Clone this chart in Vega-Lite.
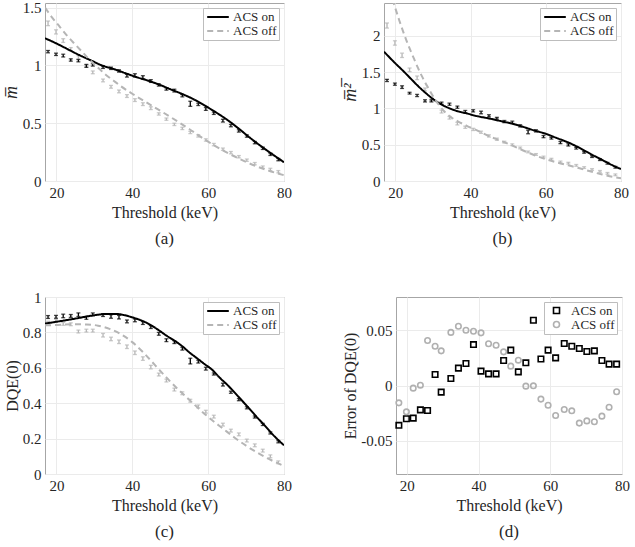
{
  "$schema": "https://vega.github.io/schema/vega-lite/v6.json",
  "padding": {"left": 1, "top": 0, "right": 2, "bottom": 2},
  "background": "white",
  "config": {
    "font": "Liberation Serif",
    "view": {"stroke": "#a6a6a6", "strokeWidth": 1},
    "style": {"guide-label": {"font": "Liberation Serif", "fontSize": 15, "fill": "#262626"}, "guide-title": {"font": "Liberation Serif", "fontSize": 16, "fontWeight": "normal", "fill": "#262626"}},
    "axis": {"grid": true, "gridColor": "#ebebeb", "ticks": false, "domain": false, "labelFont": "Liberation Serif", "labelFontSize": 15, "labelColor": "#262626", "titleFont": "Liberation Serif", "titleFontSize": 16, "titleFontWeight": "normal", "titleColor": "#262626", "labelPadding": 4, "titlePadding": 4, "labelFlush": false, "labelOverlap": false},
    "axisX": {"labelFont": "Liberation Serif", "titleFont": "Liberation Serif"},
    "axisY": {"labelFont": "Liberation Serif", "titleFont": "Liberation Serif", "titlePadding": 2},
    "legend": {"orient": "top-right", "offset": 5, "padding": 2, "rowPadding": 0, "strokeColor": "#bdbdbd", "fillColor": "white", "labelFont": "Liberation Serif", "labelFontSize": 13, "labelColor": "#262626", "symbolStrokeWidth": 2, "labelOffset": 4, "cornerRadius": 0},
    "title": {"font": "Liberation Serif", "fontSize": 17, "fontWeight": "normal", "orient": "bottom", "color": "#262626", "offset": 11}
  },
  "datasets": {
    "theory": [
      {"p":"a","s":"ACS on","x":17,"y":1.235},{"p":"a","s":"ACS on","x":20,"y":1.19},{"p":"a","s":"ACS on","x":23,"y":1.14},{"p":"a","s":"ACS on","x":26,"y":1.09},{"p":"a","s":"ACS on","x":29,"y":1.045},{"p":"a","s":"ACS on","x":32,"y":1.0},{"p":"a","s":"ACS on","x":35,"y":0.97},{"p":"a","s":"ACS on","x":38,"y":0.935},{"p":"a","s":"ACS on","x":41,"y":0.9},{"p":"a","s":"ACS on","x":44,"y":0.87},{"p":"a","s":"ACS on","x":47,"y":0.835},{"p":"a","s":"ACS on","x":50,"y":0.795},{"p":"a","s":"ACS on","x":53,"y":0.755},{"p":"a","s":"ACS on","x":56,"y":0.71},{"p":"a","s":"ACS on","x":59,"y":0.655},{"p":"a","s":"ACS on","x":62,"y":0.595},{"p":"a","s":"ACS on","x":65,"y":0.53},{"p":"a","s":"ACS on","x":68,"y":0.455},{"p":"a","s":"ACS on","x":71,"y":0.375},{"p":"a","s":"ACS on","x":74,"y":0.3},{"p":"a","s":"ACS on","x":77,"y":0.23},{"p":"a","s":"ACS on","x":80,"y":0.162},
      {"p":"a","s":"ACS off","x":17,"y":1.5},{"p":"a","s":"ACS off","x":19,"y":1.41},{"p":"a","s":"ACS off","x":21,"y":1.33},{"p":"a","s":"ACS off","x":23,"y":1.25},{"p":"a","s":"ACS off","x":25,"y":1.18},{"p":"a","s":"ACS off","x":27,"y":1.11},{"p":"a","s":"ACS off","x":29,"y":1.04},{"p":"a","s":"ACS off","x":31,"y":0.98},{"p":"a","s":"ACS off","x":33,"y":0.92},{"p":"a","s":"ACS off","x":35,"y":0.87},{"p":"a","s":"ACS off","x":37,"y":0.82},{"p":"a","s":"ACS off","x":40,"y":0.755},{"p":"a","s":"ACS off","x":45,"y":0.655},{"p":"a","s":"ACS off","x":50,"y":0.555},{"p":"a","s":"ACS off","x":55,"y":0.45},{"p":"a","s":"ACS off","x":60,"y":0.34},{"p":"a","s":"ACS off","x":65,"y":0.245},{"p":"a","s":"ACS off","x":70,"y":0.165},{"p":"a","s":"ACS off","x":75,"y":0.1},{"p":"a","s":"ACS off","x":80,"y":0.05},
      {"p":"b","s":"ACS on","x":17,"y":1.78},{"p":"b","s":"ACS on","x":20,"y":1.62},{"p":"b","s":"ACS on","x":22,"y":1.52},{"p":"b","s":"ACS on","x":24,"y":1.415},{"p":"b","s":"ACS on","x":26,"y":1.31},{"p":"b","s":"ACS on","x":28,"y":1.215},{"p":"b","s":"ACS on","x":30,"y":1.13},{"p":"b","s":"ACS on","x":32,"y":1.06},{"p":"b","s":"ACS on","x":34,"y":1.01},{"p":"b","s":"ACS on","x":36,"y":0.97},{"p":"b","s":"ACS on","x":39,"y":0.93},{"p":"b","s":"ACS on","x":42,"y":0.89},{"p":"b","s":"ACS on","x":45,"y":0.86},{"p":"b","s":"ACS on","x":48,"y":0.825},{"p":"b","s":"ACS on","x":51,"y":0.79},{"p":"b","s":"ACS on","x":54,"y":0.745},{"p":"b","s":"ACS on","x":57,"y":0.695},{"p":"b","s":"ACS on","x":60,"y":0.65},{"p":"b","s":"ACS on","x":63,"y":0.59},{"p":"b","s":"ACS on","x":66,"y":0.53},{"p":"b","s":"ACS on","x":69,"y":0.455},{"p":"b","s":"ACS on","x":72,"y":0.37},{"p":"b","s":"ACS on","x":75,"y":0.29},{"p":"b","s":"ACS on","x":78,"y":0.21},{"p":"b","s":"ACS on","x":80,"y":0.165},
      {"p":"b","s":"ACS off","x":17,"y":2.9},{"p":"b","s":"ACS off","x":18,"y":2.72},{"p":"b","s":"ACS off","x":19,"y":2.55},{"p":"b","s":"ACS off","x":20,"y":2.38},{"p":"b","s":"ACS off","x":21,"y":2.22},{"p":"b","s":"ACS off","x":22,"y":2.07},{"p":"b","s":"ACS off","x":23,"y":1.93},{"p":"b","s":"ACS off","x":24,"y":1.8},{"p":"b","s":"ACS off","x":25,"y":1.68},{"p":"b","s":"ACS off","x":26,"y":1.56},{"p":"b","s":"ACS off","x":27,"y":1.45},{"p":"b","s":"ACS off","x":28,"y":1.35},{"p":"b","s":"ACS off","x":29,"y":1.26},{"p":"b","s":"ACS off","x":30,"y":1.17},{"p":"b","s":"ACS off","x":31,"y":1.09},{"p":"b","s":"ACS off","x":32,"y":1.02},{"p":"b","s":"ACS off","x":33,"y":0.96},{"p":"b","s":"ACS off","x":34.5,"y":0.89},{"p":"b","s":"ACS off","x":36.5,"y":0.825},{"p":"b","s":"ACS off","x":39,"y":0.76},{"p":"b","s":"ACS off","x":42,"y":0.69},{"p":"b","s":"ACS off","x":45,"y":0.615},{"p":"b","s":"ACS off","x":48,"y":0.555},{"p":"b","s":"ACS off","x":51,"y":0.49},{"p":"b","s":"ACS off","x":54,"y":0.42},{"p":"b","s":"ACS off","x":57,"y":0.355},{"p":"b","s":"ACS off","x":60,"y":0.3},{"p":"b","s":"ACS off","x":63,"y":0.255},{"p":"b","s":"ACS off","x":66,"y":0.215},{"p":"b","s":"ACS off","x":69,"y":0.175},{"p":"b","s":"ACS off","x":72,"y":0.13},{"p":"b","s":"ACS off","x":75,"y":0.09},{"p":"b","s":"ACS off","x":78,"y":0.055},{"p":"b","s":"ACS off","x":80,"y":0.037},
      {"p":"c","s":"ACS on","x":17,"y":0.85},{"p":"c","s":"ACS on","x":20,"y":0.86},{"p":"c","s":"ACS on","x":25,"y":0.878},{"p":"c","s":"ACS on","x":30,"y":0.897},{"p":"c","s":"ACS on","x":33,"y":0.904},{"p":"c","s":"ACS on","x":36,"y":0.904},{"p":"c","s":"ACS on","x":38,"y":0.897},{"p":"c","s":"ACS on","x":40,"y":0.885},{"p":"c","s":"ACS on","x":43,"y":0.862},{"p":"c","s":"ACS on","x":45,"y":0.84},{"p":"c","s":"ACS on","x":47,"y":0.812},{"p":"c","s":"ACS on","x":49,"y":0.782},{"p":"c","s":"ACS on","x":51,"y":0.755},{"p":"c","s":"ACS on","x":53,"y":0.725},{"p":"c","s":"ACS on","x":55,"y":0.688},{"p":"c","s":"ACS on","x":57,"y":0.655},{"p":"c","s":"ACS on","x":59,"y":0.622},{"p":"c","s":"ACS on","x":61,"y":0.59},{"p":"c","s":"ACS on","x":63,"y":0.545},{"p":"c","s":"ACS on","x":65,"y":0.505},{"p":"c","s":"ACS on","x":67,"y":0.46},{"p":"c","s":"ACS on","x":69,"y":0.413},{"p":"c","s":"ACS on","x":71,"y":0.366},{"p":"c","s":"ACS on","x":73,"y":0.318},{"p":"c","s":"ACS on","x":75,"y":0.272},{"p":"c","s":"ACS on","x":77,"y":0.224},{"p":"c","s":"ACS on","x":80,"y":0.162},
      {"p":"c","s":"ACS off","x":17,"y":0.84},{"p":"c","s":"ACS off","x":20,"y":0.842},{"p":"c","s":"ACS off","x":24,"y":0.846},{"p":"c","s":"ACS off","x":28,"y":0.845},{"p":"c","s":"ACS off","x":31,"y":0.838},{"p":"c","s":"ACS off","x":34,"y":0.82},{"p":"c","s":"ACS off","x":37,"y":0.79},{"p":"c","s":"ACS off","x":40,"y":0.745},{"p":"c","s":"ACS off","x":43,"y":0.685},{"p":"c","s":"ACS off","x":46,"y":0.615},{"p":"c","s":"ACS off","x":49,"y":0.545},{"p":"c","s":"ACS off","x":52,"y":0.48},{"p":"c","s":"ACS off","x":55,"y":0.42},{"p":"c","s":"ACS off","x":58,"y":0.36},{"p":"c","s":"ACS off","x":61,"y":0.305},{"p":"c","s":"ACS off","x":64,"y":0.255},{"p":"c","s":"ACS off","x":67,"y":0.205},{"p":"c","s":"ACS off","x":70,"y":0.16},{"p":"c","s":"ACS off","x":73,"y":0.12},{"p":"c","s":"ACS off","x":76,"y":0.085},{"p":"c","s":"ACS off","x":80,"y":0.045}
    ],
    "meas": [
      {"p":"a","s":"ACS on","x":17.8,"y":1.119,"e":0.01},{"p":"a","s":"ACS on","x":19.9,"y":1.096,"e":0.01},{"p":"a","s":"ACS on","x":21.8,"y":1.085,"e":0.012},{"p":"a","s":"ACS on","x":23.8,"y":1.047,"e":0.01},{"p":"a","s":"ACS on","x":25.8,"y":1.041,"e":0.01},{"p":"a","s":"ACS on","x":27.9,"y":0.995,"e":0.012},{"p":"a","s":"ACS on","x":29.6,"y":1.004,"e":0.01},{"p":"a","s":"ACS on","x":32.3,"y":0.984,"e":0.01},{"p":"a","s":"ACS on","x":34.4,"y":0.975,"e":0.01},{"p":"a","s":"ACS on","x":36.5,"y":0.952,"e":0.01},{"p":"a","s":"ACS on","x":38.6,"y":0.911,"e":0.012},{"p":"a","s":"ACS on","x":40.7,"y":0.914,"e":0.014},{"p":"a","s":"ACS on","x":42.8,"y":0.897,"e":0.014},{"p":"a","s":"ACS on","x":44.9,"y":0.865,"e":0.012},{"p":"a","s":"ACS on","x":47.0,"y":0.831,"e":0.01},{"p":"a","s":"ACS on","x":49.0,"y":0.796,"e":0.01},{"p":"a","s":"ACS on","x":51.1,"y":0.782,"e":0.012},{"p":"a","s":"ACS on","x":53.2,"y":0.738,"e":0.01},{"p":"a","s":"ACS on","x":55.3,"y":0.668,"e":0.022},{"p":"a","s":"ACS on","x":57.4,"y":0.663,"e":0.01},{"p":"a","s":"ACS on","x":59.4,"y":0.623,"e":0.012},{"p":"a","s":"ACS on","x":61.5,"y":0.586,"e":0.01},{"p":"a","s":"ACS on","x":63.9,"y":0.522,"e":0.012},{"p":"a","s":"ACS on","x":66.0,"y":0.479,"e":0.01},{"p":"a","s":"ACS on","x":68.1,"y":0.433,"e":0.01},{"p":"a","s":"ACS on","x":70.2,"y":0.389,"e":0.01},{"p":"a","s":"ACS on","x":72.3,"y":0.332,"e":0.01},{"p":"a","s":"ACS on","x":74.4,"y":0.283,"e":0.01},{"p":"a","s":"ACS on","x":76.4,"y":0.231,"e":0.01},{"p":"a","s":"ACS on","x":78.5,"y":0.185,"e":0.01},
      {"p":"a","s":"ACS off","x":17.8,"y":1.364,"e":0.02},{"p":"a","s":"ACS off","x":19.9,"y":1.29,"e":0.018},{"p":"a","s":"ACS off","x":21.8,"y":1.215,"e":0.016},{"p":"a","s":"ACS off","x":23.8,"y":1.14,"e":0.014},{"p":"a","s":"ACS off","x":25.8,"y":1.07,"e":0.014},{"p":"a","s":"ACS off","x":27.9,"y":1.0,"e":0.012},{"p":"a","s":"ACS off","x":29.6,"y":0.94,"e":0.012},{"p":"a","s":"ACS off","x":32.3,"y":0.87,"e":0.012},{"p":"a","s":"ACS off","x":34.4,"y":0.815,"e":0.012},{"p":"a","s":"ACS off","x":36.5,"y":0.775,"e":0.012},{"p":"a","s":"ACS off","x":38.6,"y":0.735,"e":0.012},{"p":"a","s":"ACS off","x":40.7,"y":0.7,"e":0.012},{"p":"a","s":"ACS off","x":42.8,"y":0.665,"e":0.012},{"p":"a","s":"ACS off","x":44.9,"y":0.63,"e":0.012},{"p":"a","s":"ACS off","x":47.0,"y":0.58,"e":0.01},{"p":"a","s":"ACS off","x":49.0,"y":0.535,"e":0.01},{"p":"a","s":"ACS off","x":51.1,"y":0.49,"e":0.01},{"p":"a","s":"ACS off","x":53.2,"y":0.455,"e":0.01},{"p":"a","s":"ACS off","x":55.3,"y":0.42,"e":0.01},{"p":"a","s":"ACS off","x":57.4,"y":0.39,"e":0.01},{"p":"a","s":"ACS off","x":59.4,"y":0.355,"e":0.01},{"p":"a","s":"ACS off","x":61.5,"y":0.315,"e":0.01},{"p":"a","s":"ACS off","x":63.9,"y":0.275,"e":0.01},{"p":"a","s":"ACS off","x":66.0,"y":0.245,"e":0.01},{"p":"a","s":"ACS off","x":68.1,"y":0.21,"e":0.01},{"p":"a","s":"ACS off","x":70.2,"y":0.18,"e":0.01},{"p":"a","s":"ACS off","x":72.3,"y":0.15,"e":0.01},{"p":"a","s":"ACS off","x":74.4,"y":0.12,"e":0.01},{"p":"a","s":"ACS off","x":76.4,"y":0.1,"e":0.01},{"p":"a","s":"ACS off","x":78.5,"y":0.08,"e":0.01},
      {"p":"b","s":"ACS on","x":17.8,"y":1.384,"e":0.015},{"p":"b","s":"ACS on","x":19.9,"y":1.333,"e":0.015},{"p":"b","s":"ACS on","x":21.8,"y":1.292,"e":0.018},{"p":"b","s":"ACS on","x":23.8,"y":1.209,"e":0.012},{"p":"b","s":"ACS on","x":25.8,"y":1.177,"e":0.015},{"p":"b","s":"ACS on","x":27.9,"y":1.103,"e":0.015},{"p":"b","s":"ACS on","x":29.6,"y":1.103,"e":0.015},{"p":"b","s":"ACS on","x":32.3,"y":1.071,"e":0.015},{"p":"b","s":"ACS on","x":34.4,"y":1.057,"e":0.015},{"p":"b","s":"ACS on","x":36.5,"y":1.016,"e":0.015},{"p":"b","s":"ACS on","x":38.6,"y":0.956,"e":0.015},{"p":"b","s":"ACS on","x":40.7,"y":0.966,"e":0.015},{"p":"b","s":"ACS on","x":42.8,"y":0.943,"e":0.018},{"p":"b","s":"ACS on","x":44.9,"y":0.897,"e":0.015},{"p":"b","s":"ACS on","x":47.0,"y":0.864,"e":0.012},{"p":"b","s":"ACS on","x":49.0,"y":0.818,"e":0.015},{"p":"b","s":"ACS on","x":51.1,"y":0.809,"e":0.015},{"p":"b","s":"ACS on","x":53.2,"y":0.759,"e":0.015},{"p":"b","s":"ACS on","x":55.3,"y":0.675,"e":0.025},{"p":"b","s":"ACS on","x":57.4,"y":0.69,"e":0.015},{"p":"b","s":"ACS on","x":59.4,"y":0.611,"e":0.015},{"p":"b","s":"ACS on","x":61.5,"y":0.589,"e":0.012},{"p":"b","s":"ACS on","x":63.9,"y":0.529,"e":0.015},{"p":"b","s":"ACS on","x":66.0,"y":0.497,"e":0.015},{"p":"b","s":"ACS on","x":68.1,"y":0.451,"e":0.012},{"p":"b","s":"ACS on","x":70.2,"y":0.395,"e":0.012},{"p":"b","s":"ACS on","x":72.3,"y":0.336,"e":0.012},{"p":"b","s":"ACS on","x":74.4,"y":0.294,"e":0.012},{"p":"b","s":"ACS on","x":76.4,"y":0.244,"e":0.012},{"p":"b","s":"ACS on","x":78.5,"y":0.189,"e":0.012},
      {"p":"b","s":"ACS off","x":17.8,"y":2.14,"e":0.035},{"p":"b","s":"ACS off","x":19.9,"y":1.9,"e":0.03},{"p":"b","s":"ACS off","x":21.8,"y":1.73,"e":0.03},{"p":"b","s":"ACS off","x":23.8,"y":1.53,"e":0.025},{"p":"b","s":"ACS off","x":25.8,"y":1.42,"e":0.025},{"p":"b","s":"ACS off","x":27.9,"y":1.26,"e":0.02},{"p":"b","s":"ACS off","x":29.6,"y":1.12,"e":0.02},{"p":"b","s":"ACS off","x":32.3,"y":0.956,"e":0.02},{"p":"b","s":"ACS off","x":34.4,"y":0.87,"e":0.018},{"p":"b","s":"ACS off","x":36.5,"y":0.79,"e":0.018},{"p":"b","s":"ACS off","x":38.6,"y":0.74,"e":0.015},{"p":"b","s":"ACS off","x":40.7,"y":0.71,"e":0.015},{"p":"b","s":"ACS off","x":42.8,"y":0.671,"e":0.015},{"p":"b","s":"ACS off","x":44.9,"y":0.62,"e":0.015},{"p":"b","s":"ACS off","x":47.0,"y":0.575,"e":0.015},{"p":"b","s":"ACS off","x":49.0,"y":0.535,"e":0.012},{"p":"b","s":"ACS off","x":51.1,"y":0.5,"e":0.012},{"p":"b","s":"ACS off","x":53.2,"y":0.455,"e":0.012},{"p":"b","s":"ACS off","x":55.3,"y":0.4,"e":0.012},{"p":"b","s":"ACS off","x":57.4,"y":0.365,"e":0.012},{"p":"b","s":"ACS off","x":59.4,"y":0.33,"e":0.012},{"p":"b","s":"ACS off","x":61.5,"y":0.3,"e":0.012},{"p":"b","s":"ACS off","x":63.9,"y":0.262,"e":0.012},{"p":"b","s":"ACS off","x":66.0,"y":0.245,"e":0.012},{"p":"b","s":"ACS off","x":68.1,"y":0.215,"e":0.012},{"p":"b","s":"ACS off","x":70.2,"y":0.185,"e":0.012},{"p":"b","s":"ACS off","x":72.3,"y":0.158,"e":0.012},{"p":"b","s":"ACS off","x":74.4,"y":0.132,"e":0.012},{"p":"b","s":"ACS off","x":76.4,"y":0.105,"e":0.012},{"p":"b","s":"ACS off","x":78.5,"y":0.085,"e":0.012},
      {"p":"c","s":"ACS on","x":17.8,"y":0.887,"e":0.008},{"p":"c","s":"ACS on","x":19.9,"y":0.888,"e":0.008},{"p":"c","s":"ACS on","x":21.8,"y":0.893,"e":0.01},{"p":"c","s":"ACS on","x":23.8,"y":0.893,"e":0.008},{"p":"c","s":"ACS on","x":25.8,"y":0.9,"e":0.01},{"p":"c","s":"ACS on","x":27.9,"y":0.882,"e":0.008},{"p":"c","s":"ACS on","x":29.6,"y":0.902,"e":0.008},{"p":"c","s":"ACS on","x":32.3,"y":0.898,"e":0.008},{"p":"c","s":"ACS on","x":34.4,"y":0.89,"e":0.01},{"p":"c","s":"ACS on","x":36.5,"y":0.886,"e":0.01},{"p":"c","s":"ACS on","x":38.6,"y":0.862,"e":0.008},{"p":"c","s":"ACS on","x":40.7,"y":0.868,"e":0.008},{"p":"c","s":"ACS on","x":42.8,"y":0.853,"e":0.008},{"p":"c","s":"ACS on","x":44.9,"y":0.83,"e":0.008},{"p":"c","s":"ACS on","x":47.0,"y":0.792,"e":0.008},{"p":"c","s":"ACS on","x":49.0,"y":0.756,"e":0.008},{"p":"c","s":"ACS on","x":51.1,"y":0.745,"e":0.008},{"p":"c","s":"ACS on","x":53.2,"y":0.708,"e":0.008},{"p":"c","s":"ACS on","x":55.3,"y":0.638,"e":0.016},{"p":"c","s":"ACS on","x":57.4,"y":0.635,"e":0.008},{"p":"c","s":"ACS on","x":59.4,"y":0.595,"e":0.008},{"p":"c","s":"ACS on","x":61.5,"y":0.565,"e":0.006},{"p":"c","s":"ACS on","x":63.9,"y":0.505,"e":0.008},{"p":"c","s":"ACS on","x":66.0,"y":0.462,"e":0.006},{"p":"c","s":"ACS on","x":68.1,"y":0.42,"e":0.006},{"p":"c","s":"ACS on","x":70.2,"y":0.374,"e":0.006},{"p":"c","s":"ACS on","x":72.3,"y":0.322,"e":0.006},{"p":"c","s":"ACS on","x":74.4,"y":0.28,"e":0.006},{"p":"c","s":"ACS on","x":76.4,"y":0.232,"e":0.006},{"p":"c","s":"ACS on","x":78.5,"y":0.182,"e":0.006},
      {"p":"c","s":"ACS off","x":17.8,"y":0.855,"e":0.008},{"p":"c","s":"ACS off","x":19.9,"y":0.866,"e":0.008},{"p":"c","s":"ACS off","x":21.8,"y":0.848,"e":0.008},{"p":"c","s":"ACS off","x":23.8,"y":0.846,"e":0.008},{"p":"c","s":"ACS off","x":25.8,"y":0.805,"e":0.008},{"p":"c","s":"ACS off","x":27.9,"y":0.81,"e":0.008},{"p":"c","s":"ACS off","x":29.6,"y":0.81,"e":0.008},{"p":"c","s":"ACS off","x":32.3,"y":0.784,"e":0.01},{"p":"c","s":"ACS off","x":34.4,"y":0.763,"e":0.01},{"p":"c","s":"ACS off","x":36.5,"y":0.747,"e":0.01},{"p":"c","s":"ACS off","x":38.6,"y":0.719,"e":0.01},{"p":"c","s":"ACS off","x":40.7,"y":0.685,"e":0.01},{"p":"c","s":"ACS off","x":42.8,"y":0.652,"e":0.01},{"p":"c","s":"ACS off","x":44.9,"y":0.604,"e":0.01},{"p":"c","s":"ACS off","x":47.0,"y":0.562,"e":0.008},{"p":"c","s":"ACS off","x":49.0,"y":0.528,"e":0.008},{"p":"c","s":"ACS off","x":51.1,"y":0.477,"e":0.008},{"p":"c","s":"ACS off","x":53.2,"y":0.456,"e":0.008},{"p":"c","s":"ACS off","x":55.3,"y":0.414,"e":0.008},{"p":"c","s":"ACS off","x":57.4,"y":0.382,"e":0.008},{"p":"c","s":"ACS off","x":59.4,"y":0.352,"e":0.008},{"p":"c","s":"ACS off","x":61.5,"y":0.324,"e":0.008},{"p":"c","s":"ACS off","x":63.9,"y":0.279,"e":0.008},{"p":"c","s":"ACS off","x":66.0,"y":0.245,"e":0.008},{"p":"c","s":"ACS off","x":68.1,"y":0.224,"e":0.008},{"p":"c","s":"ACS off","x":70.2,"y":0.189,"e":0.008},{"p":"c","s":"ACS off","x":72.3,"y":0.162,"e":0.008},{"p":"c","s":"ACS off","x":74.4,"y":0.132,"e":0.008},{"p":"c","s":"ACS off","x":76.4,"y":0.1,"e":0.008},{"p":"c","s":"ACS off","x":78.5,"y":0.066,"e":0.008}
    ],
    "errs": [
      {"s":"ACS on","x":17.8,"y":-0.036},{"s":"ACS on","x":19.9,"y":-0.03},{"s":"ACS on","x":21.8,"y":-0.0295},{"s":"ACS on","x":23.8,"y":-0.022},{"s":"ACS on","x":25.8,"y":-0.0226},{"s":"ACS on","x":27.9,"y":0.01},{"s":"ACS on","x":29.6,"y":-0.006},{"s":"ACS on","x":32.3,"y":0.0063},{"s":"ACS on","x":34.4,"y":0.0157},{"s":"ACS on","x":36.5,"y":0.0199},{"s":"ACS on","x":38.6,"y":0.037},{"s":"ACS on","x":40.7,"y":0.013},{"s":"ACS on","x":42.8,"y":0.0105},{"s":"ACS on","x":44.9,"y":0.0105},{"s":"ACS on","x":47.0,"y":0.0226},{"s":"ACS on","x":49.0,"y":0.032},{"s":"ACS on","x":51.1,"y":0.0123},{"s":"ACS on","x":53.2,"y":0.0205},{"s":"ACS on","x":55.3,"y":0.059},{"s":"ACS on","x":57.4,"y":0.024},{"s":"ACS on","x":59.4,"y":0.032},{"s":"ACS on","x":61.5,"y":0.025},{"s":"ACS on","x":63.9,"y":0.038},{"s":"ACS on","x":66.0,"y":0.0355},{"s":"ACS on","x":68.1,"y":0.0334},{"s":"ACS on","x":70.2,"y":0.0307},{"s":"ACS on","x":72.3,"y":0.0313},{"s":"ACS on","x":74.4,"y":0.0226},{"s":"ACS on","x":76.4,"y":0.0193},{"s":"ACS on","x":78.5,"y":0.0193},
      {"s":"ACS off","x":17.8,"y":-0.0157},{"s":"ACS off","x":19.9,"y":-0.0238},{"s":"ACS off","x":21.8,"y":-0.0024},{"s":"ACS off","x":23.8,"y":0.0003},{"s":"ACS off","x":25.8,"y":0.0407},{"s":"ACS off","x":27.9,"y":0.0355},{"s":"ACS off","x":29.6,"y":0.0313},{"s":"ACS off","x":32.3,"y":0.048},{"s":"ACS off","x":34.4,"y":0.0536},{"s":"ACS off","x":36.5,"y":0.05},{"s":"ACS off","x":38.6,"y":0.049},{"s":"ACS off","x":40.7,"y":0.0476},{"s":"ACS off","x":42.8,"y":0.0377},{"s":"ACS off","x":44.9,"y":0.0364},{"s":"ACS off","x":47.0,"y":0.0304},{"s":"ACS off","x":49.0,"y":0.0175},{"s":"ACS off","x":51.1,"y":0.0229},{"s":"ACS off","x":53.2,"y":-0.0006},{"s":"ACS off","x":55.3,"y":-0.0003},{"s":"ACS off","x":57.4,"y":-0.0123},{"s":"ACS off","x":59.4,"y":-0.0178},{"s":"ACS off","x":61.5,"y":-0.0271},{"s":"ACS off","x":63.9,"y":-0.0217},{"s":"ACS off","x":66.0,"y":-0.0229},{"s":"ACS off","x":68.1,"y":-0.034},{"s":"ACS off","x":70.2,"y":-0.032},{"s":"ACS off","x":72.3,"y":-0.0328},{"s":"ACS off","x":74.4,"y":-0.0277},{"s":"ACS off","x":76.4,"y":-0.0196},{"s":"ACS off","x":78.5,"y":-0.0057}
    ]
  },
  "resolve": {"scale": {"color": "independent", "strokeDash": "independent", "shape": "independent"}, "legend": {"color": "independent", "strokeDash": "independent", "shape": "independent"}},
  "vconcat": [
    {
      "resolve": {"scale": {"color": "independent", "strokeDash": "independent", "shape": "independent"}, "legend": {"color": "independent", "strokeDash": "independent", "shape": "independent"}},
      "spacing": 48,
      "hconcat": [
        {
          "width": 239, "height": 178,
          "title": {"text": "(a)"},
          "encoding": {
            "x": {"field": "x", "type": "quantitative", "scale": {"domain": [17, 80], "nice": false, "zero": false}, "axis": {"values": [20, 40, 60, 80], "title": "Threshold (keV)", "labelFont": "Liberation Serif", "titleFont": "Liberation Serif"}},
            "y": {"field": "y", "type": "quantitative", "scale": {"domain": [0, 1.54], "nice": false}, "axis": {"values": [0, 0.5, 1, 1.5], "labelExpr": "'' + datum.value", "title": "m̅", "titleFontStyle": "italic", "titleFontSize": 18, "labelFont": "Liberation Serif", "titleFont": "Liberation Serif"}}
          },
          "layer": [
            {"data": {"name": "meas"}, "transform": [{"filter": "datum.p == 'a' && datum.s == 'ACS off'"}], "mark": {"type": "errorbar", "color": "#b5b5b5", "thickness": 1.3, "ticks": {"size": 4}}, "encoding": {"yError": {"field": "e"}}},
            {"data": {"name": "meas"}, "transform": [{"filter": "datum.p == 'a' && datum.s == 'ACS on'"}], "mark": {"type": "errorbar", "color": "#000000", "thickness": 1.3, "ticks": {"size": 4}}, "encoding": {"yError": {"field": "e"}}},
            {"data": {"name": "theory"}, "transform": [{"filter": "datum.p == 'a'"}], "mark": {"type": "line", "strokeWidth": 2, "clip": true, "interpolate": "monotone"},
             "encoding": {
               "color": {"field": "s", "type": "nominal", "scale": {"domain": ["ACS on", "ACS off"], "range": ["#000000", "#b5b5b5"]}, "legend": {"title": null, "symbolType": "M-1.8,0H1.8", "symbolSize": 144, "symbolOffset": 6, "labelOffset": 8}},
               "strokeDash": {"field": "s", "type": "nominal", "scale": {"domain": ["ACS on", "ACS off"], "range": [[1, 0], [6, 4]]}, "legend": {"title": null, "symbolType": "M-1.8,0H1.8", "symbolSize": 144, "symbolOffset": 6, "labelOffset": 8}}
             }}
          ]
        },
        {
          "width": 237, "height": 178,
          "title": {"text": "(b)"},
          "encoding": {
            "x": {"field": "x", "type": "quantitative", "scale": {"domain": [17, 80], "nice": false, "zero": false}, "axis": {"values": [20, 40, 60, 80], "title": "Threshold (keV)", "labelFont": "Liberation Serif", "titleFont": "Liberation Serif"}},
            "y": {"field": "y", "type": "quantitative", "scale": {"domain": [0, 2.45], "nice": false}, "axis": {"values": [0, 0.5, 1, 1.5, 2], "labelExpr": "'' + datum.value", "title": "m̅²̅", "titleFontStyle": "italic", "titleFontSize": 18, "labelFont": "Liberation Serif", "titleFont": "Liberation Serif"}}
          },
          "layer": [
            {"data": {"name": "meas"}, "transform": [{"filter": "datum.p == 'b' && datum.s == 'ACS off'"}], "mark": {"type": "errorbar", "color": "#b5b5b5", "thickness": 1.3, "ticks": {"size": 4}, "clip": true}, "encoding": {"yError": {"field": "e"}}},
            {"data": {"name": "meas"}, "transform": [{"filter": "datum.p == 'b' && datum.s == 'ACS on'"}], "mark": {"type": "errorbar", "color": "#000000", "thickness": 1.3, "ticks": {"size": 4}}, "encoding": {"yError": {"field": "e"}}},
            {"data": {"name": "theory"}, "transform": [{"filter": "datum.p == 'b'"}], "mark": {"type": "line", "strokeWidth": 2, "clip": true, "interpolate": "monotone"},
             "encoding": {
               "color": {"field": "s", "type": "nominal", "scale": {"domain": ["ACS on", "ACS off"], "range": ["#000000", "#b5b5b5"]}, "legend": {"title": null, "symbolType": "M-1.8,0H1.8", "symbolSize": 144, "symbolOffset": 6, "labelOffset": 8}},
               "strokeDash": {"field": "s", "type": "nominal", "scale": {"domain": ["ACS on", "ACS off"], "range": [[1, 0], [6, 4]]}, "legend": {"title": null, "symbolType": "M-1.8,0H1.8", "symbolSize": 144, "symbolOffset": 6, "labelOffset": 8}}
             }}
          ]
        }
      ]
    },
    {
      "resolve": {"scale": {"color": "independent", "strokeDash": "independent", "shape": "independent"}, "legend": {"color": "independent", "strokeDash": "independent", "shape": "independent"}},
      "spacing": 50,
      "hconcat": [
        {
          "width": 239, "height": 177,
          "title": {"text": "(c)"},
          "encoding": {
            "x": {"field": "x", "type": "quantitative", "scale": {"domain": [17, 80], "nice": false, "zero": false}, "axis": {"values": [20, 40, 60, 80], "title": "Threshold (keV)", "labelFont": "Liberation Serif", "titleFont": "Liberation Serif"}},
            "y": {"field": "y", "type": "quantitative", "scale": {"domain": [0, 1], "nice": false}, "axis": {"values": [0, 0.2, 0.4, 0.6, 0.8, 1], "labelExpr": "'' + datum.value", "title": "DQE(0)", "labelFont": "Liberation Serif", "titleFont": "Liberation Serif"}}
          },
          "layer": [
            {"data": {"name": "meas"}, "transform": [{"filter": "datum.p == 'c' && datum.s == 'ACS off'"}], "mark": {"type": "errorbar", "color": "#b5b5b5", "thickness": 1.3, "ticks": {"size": 4}}, "encoding": {"yError": {"field": "e"}}},
            {"data": {"name": "meas"}, "transform": [{"filter": "datum.p == 'c' && datum.s == 'ACS on'"}], "mark": {"type": "errorbar", "color": "#000000", "thickness": 1.3, "ticks": {"size": 4}}, "encoding": {"yError": {"field": "e"}}},
            {"data": {"name": "theory"}, "transform": [{"filter": "datum.p == 'c'"}], "mark": {"type": "line", "strokeWidth": 2, "clip": true, "interpolate": "monotone"},
             "encoding": {
               "color": {"field": "s", "type": "nominal", "scale": {"domain": ["ACS on", "ACS off"], "range": ["#000000", "#b5b5b5"]}, "legend": {"title": null, "symbolType": "M-1.8,0H1.8", "symbolSize": 144, "symbolOffset": 6, "labelOffset": 8}},
               "strokeDash": {"field": "s", "type": "nominal", "scale": {"domain": ["ACS on", "ACS off"], "range": [[1, 0], [6, 4]]}, "legend": {"title": null, "symbolType": "M-1.8,0H1.8", "symbolSize": 144, "symbolOffset": 6, "labelOffset": 8}}
             }}
          ]
        },
        {
          "width": 226, "height": 177,
          "title": {"text": "(d)"},
          "data": {"name": "errs"},
          "mark": {"type": "point", "filled": false, "strokeWidth": 1.6, "size": 30, "opacity": 1},
          "encoding": {
            "x": {"field": "x", "type": "quantitative", "scale": {"domain": [17, 80], "nice": false, "zero": false}, "axis": {"values": [20, 40, 60, 80], "title": "Threshold (keV)", "labelFont": "Liberation Serif", "titleFont": "Liberation Serif"}},
            "y": {"field": "y", "type": "quantitative", "scale": {"domain": [-0.08, 0.08], "nice": false}, "axis": {"values": [-0.05, 0, 0.05], "labelExpr": "'' + datum.value", "title": "Error of DQE(0)", "labelFont": "Liberation Serif", "titleFont": "Liberation Serif"}},
            "color": {"field": "s", "type": "nominal", "scale": {"domain": ["ACS on", "ACS off"], "range": ["#000000", "#b0b0b0"]}, "legend": {"title": null, "symbolSize": 36, "symbolStrokeWidth": 1.6, "symbolOffset": 4, "labelOffset": 8}},
            "shape": {"field": "s", "type": "nominal", "scale": {"domain": ["ACS on", "ACS off"], "range": ["square", "circle"]}, "legend": {"title": null, "symbolSize": 36, "symbolStrokeWidth": 1.6, "symbolOffset": 4, "labelOffset": 8}}
          }
        }
      ]
    }
  ],
  "spacing": 41
}
